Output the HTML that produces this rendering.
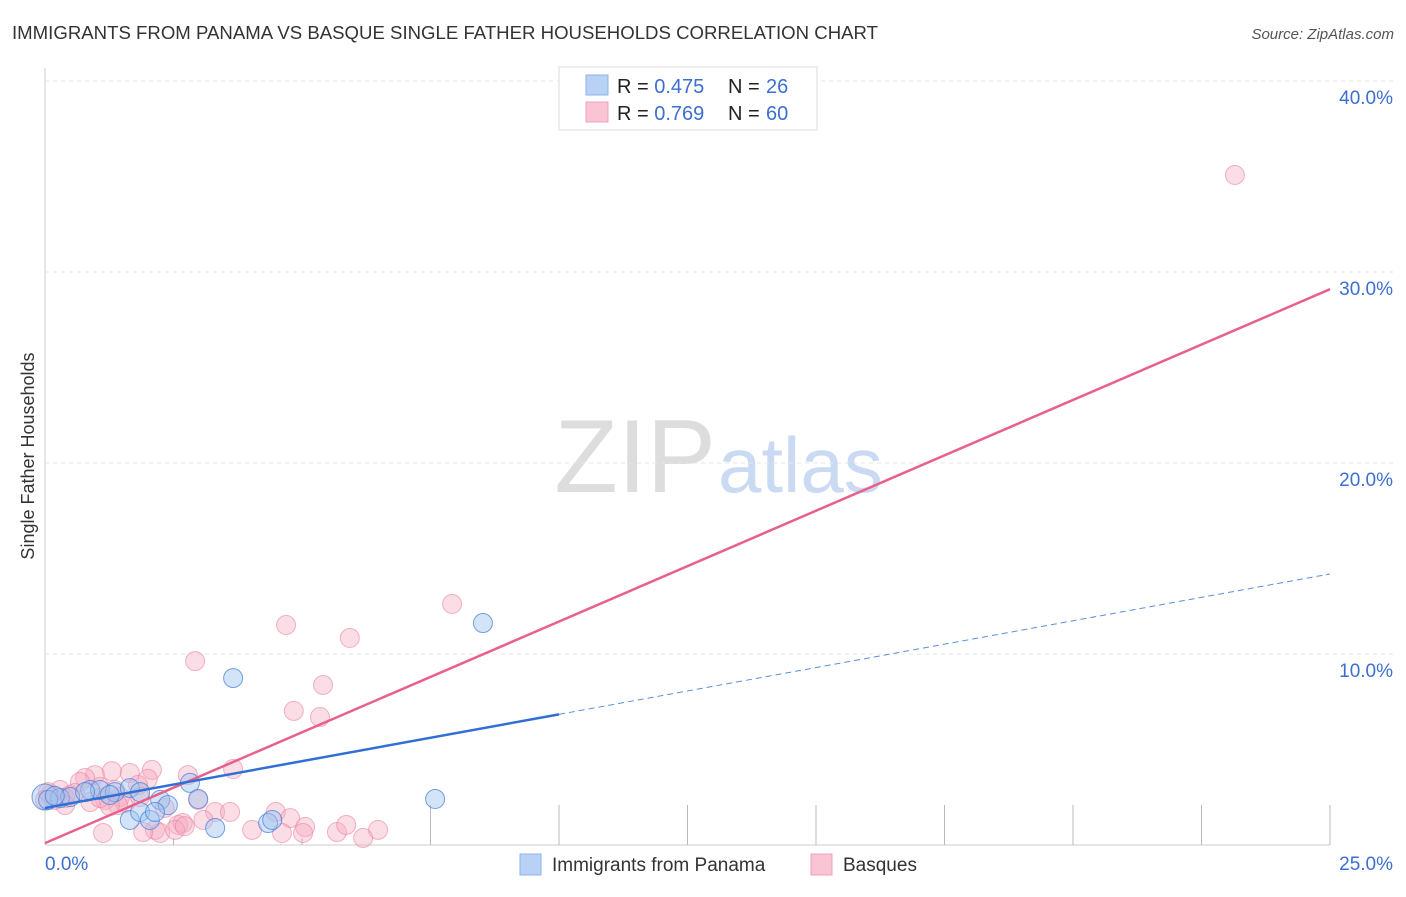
<!DOCTYPE html>
<html><head><meta charset="utf-8"><style>
body{margin:0;background:#fff;font-family:"Liberation Sans",sans-serif;}
svg text{font-family:"Liberation Sans",sans-serif;}
</style></head><body>
<svg id="chart" width="1406" height="892">
<text x="12" y="39" font-size="18.6" fill="#333" textLength="866">IMMIGRANTS FROM PANAMA VS BASQUE SINGLE FATHER HOUSEHOLDS CORRELATION CHART</text>
<text x="1394" y="39" font-size="15" fill="#555" text-anchor="end" font-style="italic">Source: ZipAtlas.com</text>
<text x="716" y="492" font-size="104" fill="#ddd" text-anchor="end" font-family="Liberation Serif">ZIP</text>
<text x="718" y="492" font-size="78" fill="#c9daf2">atlas</text>
<text transform="translate(34,456) rotate(-90)" font-size="18" fill="#333" text-anchor="middle">Single Father Households</text>
<g id="grid"></g><g id="marks"></g>
<g>
<rect x="559" y="67" width="258" height="63" fill="#fff" stroke="#ddd"/>
<rect x="586" y="75" width="22" height="20" fill="#b9d1f5" stroke="#8fb2e8"/>
<rect x="586" y="102" width="22" height="20" fill="#f9c5d4" stroke="#efa0b8"/>
<text x="617" y="93" font-size="20" fill="#222">R = <tspan fill="#3b6fd0">0.475</tspan><tspan x="728">N = </tspan><tspan fill="#3b6fd0" x="766">26</tspan></text>
<text x="617" y="120" font-size="20" fill="#222">R = <tspan fill="#3b6fd0">0.769</tspan><tspan x="728">N = </tspan><tspan fill="#3b6fd0" x="766">60</tspan></text>
</g>
<g>
<rect x="520" y="854" width="21" height="21" fill="#b9d1f5" stroke="#8fb2e8"/>
<text x="552" y="871" font-size="19" fill="#333">Immigrants from Panama</text>
<rect x="811" y="854" width="21" height="21" fill="#f9c5d4" stroke="#efa0b8"/>
<text x="843" y="871" font-size="19" fill="#333">Basques</text>
</g>
</svg>
<script>
const yTicks=[10,20,30,40];
const yTickLabels=["10.0%","20.0%","30.0%","40.0%"];
const xTickLabels=["0.0%","25.0%"];
const panamaX=[0,0.29,0.49,0.88,1.07,1.36,1.65,1.85,1.65,1.85,2.04,2.24,2.39,2.82,2.98,3.31,3.66,4.34,4.42,7.59,8.52,0.06,0.19,0.78,1.26,2.14];
const panamaY=[2.51,2.46,2.51,2.88,2.88,2.77,2.98,2.77,1.31,1.73,1.31,2.36,2.09,3.25,2.41,0.89,8.74,1.15,1.31,2.41,11.62,2.36,2.57,2.77,2.62,1.73];
const basqueX=[23.15,7.92,5.93,4.69,2.92,5.41,4.84,5.35,3.66,2.78,2.08,2.0,1.65,1.3,0.97,0.78,0.68,1.81,1.07,0.29,0.1,0.49,1.46,1.17,0.88,1.56,2.33,2.98,3.31,3.6,3.08,2.59,2.68,2.14,2.24,1.91,1.13,4.03,4.49,4.77,4.61,5.06,5.02,5.68,5.86,6.19,6.48,0.19,0.39,0.58,0,1.36,1.85,1.42,0.39,0.06,1.26,2.53,2.72,1.07];
const basqueY=[35.08,12.62,10.84,11.52,9.63,8.38,7.02,6.70,3.98,3.66,3.93,3.46,3.77,3.87,3.66,3.51,3.30,3.14,3.04,2.88,2.62,2.62,2.51,2.36,2.25,2.2,1.94,2.36,1.73,1.73,1.31,1.05,1.15,0.79,0.63,0.68,0.63,0.79,1.73,1.41,0.63,0.94,0.63,0.68,1.05,0.37,0.79,2.36,2.46,2.72,2.36,2.88,2.51,2.09,2.09,2.77,2.04,0.79,0.99,2.46];
const panamaFit=[1.94,0.49];   // intercept, slope
const basqueFit=[0.1,1.16];
const ns="http://www.w3.org/2000/svg";
const X=v=>45+v*51.4, Y=v=>845-v*19.1;
function mk(t,a,p){const e=document.createElementNS(ns,t);for(const k in a)e.setAttribute(k,a[k]);p.appendChild(e);return e;}
const grid=document.getElementById('grid'), marks=document.getElementById('marks');
mk('line',{x1:45,y1:68,x2:45,y2:845,stroke:'#ccc'},grid);
mk('line',{x1:45,y1:845,x2:1330,y2:845,stroke:'#ccc'},grid);
for(let i=0;i<yTicks.length;i++){
 const gl=mk('line',{x1:45,x2:1395,y1:Y(yTicks[i]),y2:Y(yTicks[i]),stroke:'#e6e6e6','stroke-dasharray':'4,4'},grid);
 
 
 const t=mk('text',{x:1393,y:Y(yTicks[i])+23,'text-anchor':'end','font-size':19,fill:'#3b6fd0'},grid);
 t.textContent=yTickLabels[i];
 
 
}
for(let k=1;k<=10;k++){
 const l=mk('line',{x1:X(k*2.5),x2:X(k*2.5),y1:k>=3?805:838,y2:845,stroke:'#bbb'},grid);
 
 
}
const t0=mk('text',{x:45,y:870,'font-size':19,fill:'#3b6fd0'},grid);t0.textContent=xTickLabels[0];


const t1=mk('text',{x:1393,y:870,'font-size':19,fill:'#3b6fd0','text-anchor':'end'},grid);t1.textContent=xTickLabels[1];


for(let i=0;i<basqueX.length;i++){
 const c=mk('circle',{cx:X(basqueX[i]),cy:Y(basqueY[i]),r:9.5,fill:'rgba(246,170,192,0.4)',stroke:'rgba(236,130,160,0.6)'},marks);
 
 
}
for(let i=0;i<panamaX.length;i++){
 const c=mk('circle',{cx:X(panamaX[i]),cy:Y(panamaY[i]),r:i==0?13:9.5,fill:'rgba(160,195,240,0.45)',stroke:'rgba(70,130,220,0.75)'},marks);
 
 
}
const bl=mk('line',{x1:X(0),y1:Y(basqueFit[0]),x2:X(25),y2:Y(basqueFit[0]+25*basqueFit[1]),stroke:'#e8608c','stroke-width':2.5},marks);


const pl=mk('line',{x1:X(0),y1:Y(panamaFit[0]),x2:X(10),y2:Y(panamaFit[0]+10*panamaFit[1]),stroke:'#2f6fd6','stroke-width':2.5},marks);


const pd=mk('line',{x1:X(10),y1:Y(panamaFit[0]+10*panamaFit[1]),x2:X(25),y2:Y(panamaFit[0]+25*panamaFit[1]),stroke:'#5b8fdc','stroke-width':1,'stroke-dasharray':'6,4'},marks);


</script>
</body></html>
